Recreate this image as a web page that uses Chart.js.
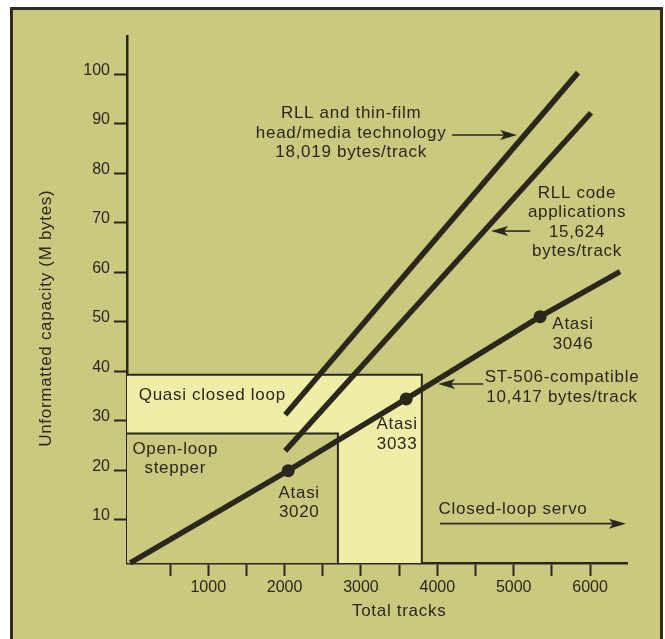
<!DOCTYPE html>
<html>
<head>
<meta charset="utf-8">
<script src="https://cdn.jsdelivr.net/npm/chart.js@4"></script>
<style>
    html, body { margin: 0; padding: 0; background: #fff; overflow: hidden; }
    #frame {
        position: absolute; left: 10px; top: 7px; right: 2px; bottom: -10px;
        border: 3px solid #2f2d22; background: #cbc880;
    }
    #wrap { position: absolute; left: 0; top: 0; width: 665px; height: 639px; }
</style>
</head>
<body>
<div id="frame"></div>
<div id="wrap"><canvas id="chart" width="665" height="639"></canvas></div>
<script>
(() => {
    'use strict';

    // ─── Data ───
    const yTicks = [10, 20, 30, 40, 50, 60, 70, 80, 90, 100];
    const xTicks = [500, 1000, 1500, 2000, 2500, 3000, 3500, 4000, 4500, 5000, 5500, 6000];

    const rllTracks = [2008, 5843];
    const rllCapacity = [31.2, 100.3];
    const codeTracks = [2008, 6013];
    const codeCapacity = [23.9, 92.2];
    const st506Tracks = [-21, 2047, 3592, 5346, 6393];
    const st506Capacity = [1.3, 19.9, 34.4, 51.0, 60.1];
    const st506Dots = [0, 1, 1, 1, 0];

    // regions: [right edge in tracks, top edge in M bytes]
    const openLoopEdge = [2698, 27.4];
    const quasiEdge = [3797, 39.3];

    const noteText = [
        ['RLL and thin-film', 'head/media technology', '18,019 bytes/track'],
        ['RLL code', 'applications', '15,624', 'bytes/track'],
        ['ST-506-compatible', '10,417 bytes/track'],
        ['Atasi', '3046'],
        ['Atasi', '3033'],
        ['Atasi', '3020'],
        ['Open-loop', 'stepper'],
        ['Quasi closed loop'],
        ['Closed-loop servo'],
    ];
    const noteX = [2871, 5829, 5633, 5777, 3473, 2191, 568, 1053, 4992];
    const noteY = [92.0, 76.0, 38.7, 49.4, 29.2, 15.4, 24.3, 35.2, 12.0];

    const arrowFrom = [[4194, 87.7], [5215, 68.3], [4602, 37.4], [4035, 9.2]];
    const arrowTo = [[5045, 87.7], [4704, 68.3], [4010, 37.4], [6470, 9.2]];

    const xTitle = 'Total tracks';
    const yTitle = 'Unformatted capacity (M bytes)';

    // ─── Colours / fonts ───
    const ink = '#2a281c';
    const olive = '#cbc880';
    const pale = '#efeda8';
    const family = "'Liberation Sans', Arial, Helvetica, sans-serif";

    const toPoints = (xs, ys) => xs.map((x, i) => ({ x, y: ys[i] }));

    // ─── Regions behind the lines ───
    const regionPlugin = {
        id: 'regions',
        beforeDatasetsDraw(chart) {
            const { ctx } = chart;
            const xs = chart.scales.x, ys = chart.scales.y;
            const left = xs.left, bottom = ys.bottom;
            ctx.save();
            ctx.lineWidth = 2;
            ctx.strokeStyle = ink;

            const qx = xs.getPixelForValue(quasiEdge[0]);
            const qy = ys.getPixelForValue(quasiEdge[1]);
            ctx.fillStyle = pale;
            ctx.fillRect(left, qy, qx - left, bottom - qy);

            const ox = xs.getPixelForValue(openLoopEdge[0]);
            const oy = ys.getPixelForValue(openLoopEdge[1]);
            ctx.fillStyle = olive;
            ctx.fillRect(left, oy, ox - left, bottom - oy);

            ctx.beginPath();
            ctx.moveTo(left, qy); ctx.lineTo(qx, qy); ctx.lineTo(qx, bottom);
            ctx.moveTo(left, oy); ctx.lineTo(ox, oy); ctx.lineTo(ox, bottom);
            ctx.stroke();
            ctx.restore();
        },
    };

    // ─── Notes, arrows and axis titles ───
    const notePlugin = {
        id: 'notes',
        afterDatasetsDraw(chart) {
            const { ctx } = chart;
            const xs = chart.scales.x, ys = chart.scales.y;
            ctx.save();
            ctx.fillStyle = ink;
            ctx.strokeStyle = ink;
            ctx.font = `17px ${family}`;
            ctx.letterSpacing = '0.7px';
            ctx.textAlign = 'center';
            ctx.textBaseline = 'middle';

            noteText.forEach((lines, i) => {
                const px = xs.getPixelForValue(noteX[i]);
                const py = ys.getPixelForValue(noteY[i]);
                lines.forEach((t, j) => ctx.fillText(t, px, py + j * 19.5));
            });

            arrowFrom.forEach((from, i) => {
                const x0 = xs.getPixelForValue(from[0]), y0 = ys.getPixelForValue(from[1]);
                const x1 = xs.getPixelForValue(arrowTo[i][0]), y1 = ys.getPixelForValue(arrowTo[i][1]);
                const dir = Math.sign(x1 - x0);
                ctx.lineWidth = 1.6;
                ctx.beginPath();
                ctx.moveTo(x0, y0);
                ctx.lineTo(x1 - dir * 10, y1);
                ctx.stroke();
                ctx.beginPath();
                ctx.moveTo(x1, y1);
                ctx.lineTo(x1 - dir * 17, y1 - 5);
                ctx.lineTo(x1 - dir * 13, y1);
                ctx.lineTo(x1 - dir * 17, y1 + 5);
                ctx.closePath();
                ctx.fill();
            });

            // axis titles
            ctx.fillText(xTitle, xs.getPixelForValue(3500), xs.top + 48);
            ctx.translate(ys.left + 46, ys.getPixelForValue(50.7));
            ctx.rotate(-Math.PI / 2);
            ctx.fillText(yTitle, 0, 0);
            ctx.restore();
        },
    };

    const lineStyle = {
        showLine: true,
        borderColor: ink,
        backgroundColor: ink,
        borderWidth: 5.5,
        borderCapStyle: 'butt',
        pointRadius: 0,
        clip: false,
    };

    // ─── Chart ───
    new Chart(document.getElementById('chart'), {
        type: 'scatter',
        data: {
            datasets: [
                { ...lineStyle, label: 'RLL thin-film', data: toPoints(rllTracks, rllCapacity) },
                { ...lineStyle, label: 'RLL code', data: toPoints(codeTracks, codeCapacity) },
                {
                    ...lineStyle,
                    label: 'ST-506',
                    data: toPoints(st506Tracks, st506Capacity),
                    pointRadius: st506Dots.map(d => d * 6.5),
                    pointBackgroundColor: ink,
                    pointBorderWidth: 0,
                },
            ],
        },
        options: {
            responsive: false,
            animation: false,
            layout: { padding: { left: 0, right: 38, top: 36, bottom: 0 } },
            plugins: { legend: { display: false }, tooltip: { enabled: false } },
            scales: {
                x: {
                    type: 'linear',
                    min: -64, max: 6484,
                    afterBuildTicks: axis => { axis.ticks = xTicks.map(value => ({ value })); },
                    afterFit: axis => { axis.height = 76; },
                    ticks: {
                        color: ink,
                        font: { family, size: 16 },
                        padding: 2,
                        maxRotation: 0,
                        autoSkip: false,
                        callback: v => (v % 1000 === 0 ? String(v) : ''),
                    },
                    grid: { drawOnChartArea: false, tickLength: 13, tickWidth: 2, tickColor: ink },
                    border: { color: ink, width: 2.5 },
                },
                y: {
                    type: 'linear',
                    min: 1.25, max: 107.7,
                    afterBuildTicks: axis => { axis.ticks = yTicks.map(value => ({ value })); },
                    afterFit: axis => { axis.width = 127; },
                    ticks: {
                        color: ink,
                        font: { family, size: 16 },
                        padding: 4,
                        labelOffset: -4,
                        autoSkip: false,
                    },
                    grid: { drawOnChartArea: false, tickLength: 13, tickWidth: 2, tickColor: ink },
                    border: { color: ink, width: 2.5 },
                },
            },
        },
        plugins: [regionPlugin, notePlugin],
    });
})();
</script>
</body>
</html>
